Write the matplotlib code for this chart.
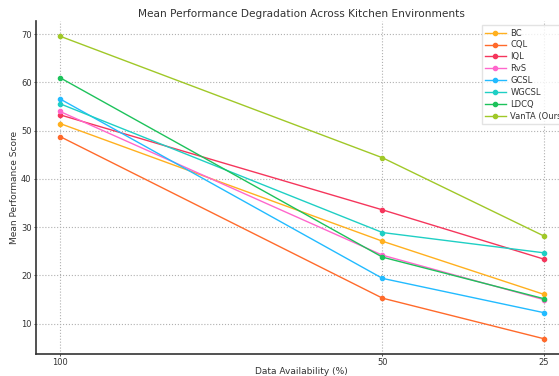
import matplotlib
matplotlib.use("Agg")
import matplotlib.pyplot as plt

# data
availability = [100, 50, 25]
methods = ["BC", "CQL", "IQL", "RvS", "GCSL", "WGCSL", "LDCQ", "VanTA (Ours)"]
bc = [51.5, 27.1, 16.1]
cql = [48.8, 15.3, 6.9]
iql = [53.3, 33.6, 23.4]
rvs = [54.0, 24.2, 15.0]
gcsl = [56.6, 19.4, 12.3]
wgcsl = [55.6, 28.9, 24.7]
ldcq = [61.0, 23.8, 15.2]
vanta = [69.6, 44.4, 28.2]
scores = [bc, cql, iql, rvs, gcsl, wgcsl, ldcq, vanta]
colors = ["#ffb01f", "#ff6a2b", "#f5365c", "#ff66cc", "#22bbff",
          "#1fcfc4", "#1dc25b", "#a0c828"]

plt.rcParams["text.color"] = "#333333"
plt.rcParams["axes.labelcolor"] = "#333333"
plt.rcParams["xtick.color"] = "#333333"
plt.rcParams["ytick.color"] = "#333333"

fig = plt.figure(figsize=(5.59, 3.76), dpi=100)
ax = fig.add_axes([0.064, 0.059, 0.952, 0.885])

for name, vals, c in zip(methods, scores, colors):
    ax.plot(availability, vals, marker="o", markersize=3, linewidth=1,
            color=c, label=name)

ax.invert_xaxis()
ax.set_xticks(availability)
ax.set_xticklabels([str(a) for a in availability])

ax.set_title("Mean Performance Degradation Across Kitchen Environments",
             fontsize=7.6, pad=3)
ax.set_xlabel("Data Availability (%)", fontsize=6.5, labelpad=0)
ax.set_ylabel("Mean Performance Score", fontsize=6.5, labelpad=1.5)
ax.tick_params(labelsize=6, length=1.5, width=0.6, pad=1.5)

ax.grid(True, linestyle=":", color="#b0b0b0", linewidth=0.8)
for s in ["top", "right"]:
    ax.spines[s].set_visible(False)
for s in ["left", "bottom"]:
    ax.spines[s].set_color("#333333")
    ax.spines[s].set_linewidth(1.2)

ax.legend(loc="upper left", bbox_to_anchor=(0.83, 1.0), fontsize=6,
          frameon=True, edgecolor="#dddddd", fancybox=False,
          handlelength=2.5, handletextpad=0.55, borderpad=0.4,
          labelspacing=0.35)

fig.savefig("out.png", dpi=100)
